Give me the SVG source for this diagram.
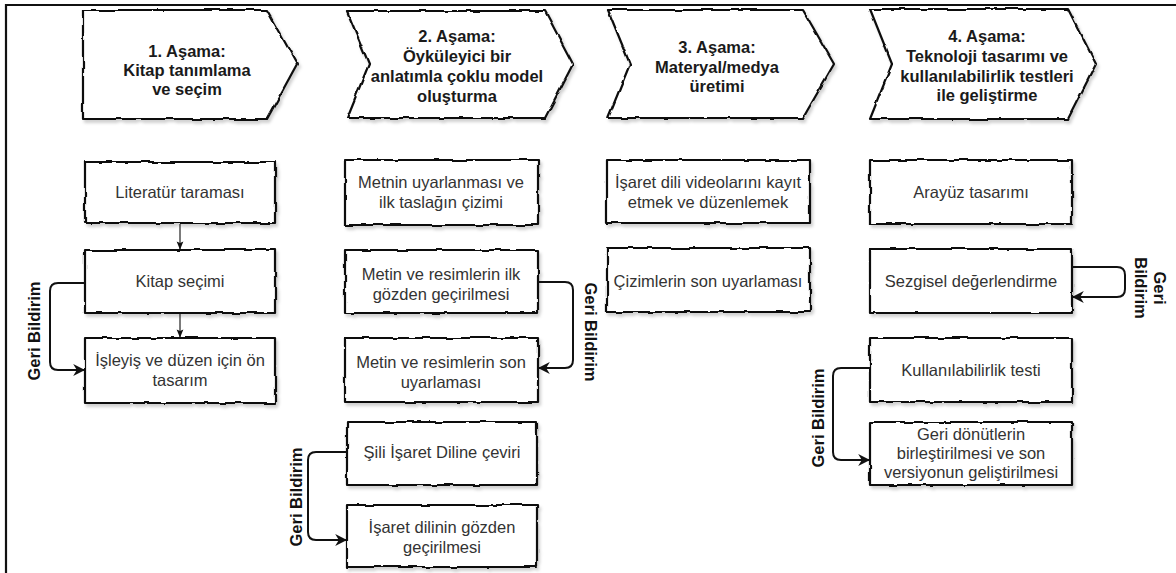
<svg xmlns="http://www.w3.org/2000/svg" width="1176" height="573" viewBox="0 0 1176 573">
  <defs>
    <!-- hand-drawn wobble plus soft shadow for the outlined shapes -->
    <filter id="sketch" x="-10%" y="-10%" width="125%" height="130%">
      <feTurbulence type="fractalNoise" baseFrequency="0.07" numOctaves="2" seed="3" result="noise"/>
      <feDisplacementMap in="SourceGraphic" in2="noise" scale="3.4" xChannelSelector="R" yChannelSelector="G" result="wobbly"/>
      <feDropShadow in="wobbly" dx="2" dy="3" stdDeviation="1.4" flood-color="#000" flood-opacity="0.18"/>
    </filter>
    <marker id="arrow" viewBox="0 0 10 10" refX="9" refY="5" markerWidth="6" markerHeight="6" markerUnits="strokeWidth" orient="auto">
      <path d="M0,0 L10,5 L0,10 L3,5 Z" fill="#111"/>
    </marker>
    <marker id="arrowSmall" viewBox="0 0 10 10" refX="9" refY="5" markerWidth="7" markerHeight="7" markerUnits="strokeWidth" orient="auto">
      <path d="M0,1 L10,5 L0,9 L2,5 Z" fill="#111"/>
    </marker>
    <style>
      .shape { fill: #fff; stroke: #111; stroke-width: 2.2; stroke-linejoin: round; }
      .phase { font-family: "Liberation Sans", Arial, sans-serif; font-size: 16.5px; font-weight: bold; fill: #1a1a1a; text-anchor: middle; }
      .step { font-family: "Liberation Sans", Arial, sans-serif; font-size: 16.5px; fill: #333; text-anchor: middle; }
      .fb { font-family: "Liberation Sans", Arial, sans-serif; font-size: 16.5px; font-weight: bold; fill: #111; text-anchor: middle; dominant-baseline: central; }
      .link { fill: none; stroke: #111; stroke-width: 2; stroke-linejoin: round; }
      .down { fill: none; stroke: #222; stroke-width: 1.2; }
    </style>
  </defs>

  <rect x="0" y="0" width="1176" height="573" fill="#fff"/>

  <!-- outer frame: top and left rules -->
  <g id="frame">
    <line x1="5" y1="5" x2="1176" y2="5" stroke="#111" stroke-width="2.2"/>
    <line x1="6" y1="4" x2="6" y2="573" stroke="#111" stroke-width="2.2"/>
  </g>

  <!-- phase headers -->
  <g id="phase1">
    <path class="shape" filter="url(#sketch)" d="M83,10 L267,10 L297,64 L267,119 L83,119 Z"/>
    <text class="phase" x="187" y="57">1. Aşama:</text>
    <text class="phase" x="187" y="76">Kitap tanımlama</text>
    <text class="phase" x="187" y="95">ve seçim</text>
  </g>
  <g id="phase2">
    <path class="shape" filter="url(#sketch)" d="M347,11 L545,11 L573,64 L545,118 L347,118 L369,64 Z"/>
    <text class="phase" x="457" y="42">2. Aşama:</text>
    <text class="phase" x="457" y="62">Öyküleyici bir</text>
    <text class="phase" x="457" y="82">anlatımla çoklu model</text>
    <text class="phase" x="457" y="102">oluşturma</text>
  </g>
  <g id="phase3">
    <path class="shape" filter="url(#sketch)" d="M608,10 L803,10 L834,64 L803,118 L608,118 L630,64 Z"/>
    <text class="phase" x="717" y="53">3. Aşama:</text>
    <text class="phase" x="717" y="73">Materyal/medya</text>
    <text class="phase" x="717" y="92">üretimi</text>
  </g>
  <g id="phase4">
    <path class="shape" filter="url(#sketch)" d="M870,9 L1068,9 L1096,64 L1068,119 L870,119 L892,64 Z"/>
    <text class="phase" x="987" y="42">4. Aşama:</text>
    <text class="phase" x="987" y="62">Teknoloji tasarımı ve</text>
    <text class="phase" x="987" y="82">kullanılabilirlik testleri</text>
    <text class="phase" x="987" y="101">ile geliştirme</text>
  </g>

  <!-- phase 1 steps -->
  <g id="literatur">
    <rect class="shape" filter="url(#sketch)" x="85" y="162" width="190" height="61"/>
    <text class="step" x="180" y="198">Literatür taraması</text>
  </g>
  <g id="kitap-secimi">
    <rect class="shape" filter="url(#sketch)" x="85" y="250" width="190" height="63"/>
    <text class="step" x="180" y="287">Kitap seçimi</text>
  </g>
  <g id="on-tasarim">
    <rect class="shape" filter="url(#sketch)" x="85" y="338" width="190" height="65"/>
    <text class="step" x="180" y="366">İşleyiş ve düzen için ön</text>
    <text class="step" x="180" y="386">tasarım</text>
  </g>

  <!-- phase 2 steps -->
  <g id="metin-uyarlama">
    <rect class="shape" filter="url(#sketch)" x="345" y="160" width="193" height="65"/>
    <text class="step" x="441" y="188">Metnin uyarlanması ve</text>
    <text class="step" x="441" y="208">ilk taslağın çizimi</text>
  </g>
  <g id="ilk-gozden-gecirme">
    <rect class="shape" filter="url(#sketch)" x="345" y="250" width="193" height="63"/>
    <text class="step" x="441" y="280">Metin ve resimlerin ilk</text>
    <text class="step" x="441" y="300">gözden geçirilmesi</text>
  </g>
  <g id="son-uyarlama">
    <rect class="shape" filter="url(#sketch)" x="345" y="338" width="193" height="64"/>
    <text class="step" x="441" y="368">Metin ve resimlerin son</text>
    <text class="step" x="441" y="388">uyarlaması</text>
  </g>
  <g id="isaret-ceviri">
    <rect class="shape" filter="url(#sketch)" x="347" y="422" width="190" height="63"/>
    <text class="step" x="442" y="458">Şili İşaret Diline çeviri</text>
  </g>
  <g id="isaret-gozden-gecirme">
    <rect class="shape" filter="url(#sketch)" x="347" y="505" width="190" height="62"/>
    <text class="step" x="442" y="533">İşaret dilinin gözden</text>
    <text class="step" x="442" y="553">geçirilmesi</text>
  </g>

  <!-- phase 3 steps -->
  <g id="video-kayit">
    <rect class="shape" filter="url(#sketch)" x="607" y="160" width="203" height="63"/>
    <text class="step" x="708" y="188">İşaret dili videolarını kayıt</text>
    <text class="step" x="708" y="208">etmek ve düzenlemek</text>
  </g>
  <g id="cizim-uyarlama">
    <rect class="shape" filter="url(#sketch)" x="607" y="248" width="203" height="64"/>
    <text class="step" x="708" y="287">Çizimlerin son uyarlaması</text>
  </g>

  <!-- phase 4 steps -->
  <g id="arayuz">
    <rect class="shape" filter="url(#sketch)" x="870" y="160" width="202" height="64"/>
    <text class="step" x="971" y="198">Arayüz tasarımı</text>
  </g>
  <g id="sezgisel">
    <rect class="shape" filter="url(#sketch)" x="870" y="249" width="202" height="64"/>
    <text class="step" x="971" y="287">Sezgisel değerlendirme</text>
  </g>
  <g id="kullanilabilirlik">
    <rect class="shape" filter="url(#sketch)" x="870" y="338" width="202" height="64"/>
    <text class="step" x="971" y="376">Kullanılabilirlik testi</text>
  </g>
  <g id="son-versiyon">
    <rect class="shape" filter="url(#sketch)" x="870" y="422" width="202" height="63"/>
    <text class="step" x="971" y="440">Geri dönütlerin</text>
    <text class="step" x="971" y="459">birleştirilmesi ve son</text>
    <text class="step" x="971" y="478">versiyonun geliştirilmesi</text>
  </g>

  <!-- connectors -->
  <g id="connectors">
    <path class="down" d="M180,224 V249" marker-end="url(#arrowSmall)"/>
    <path class="down" d="M180,314 V337" marker-end="url(#arrowSmall)"/>

    <path class="link" d="M85,283 H58 Q50,283 50,291 V362 Q50,370 58,370 H84" marker-end="url(#arrow)"/>
    <path class="link" d="M538,282 H565 Q573,282 573,290 V360 Q573,368 565,368 H539" marker-end="url(#arrow)"/>
    <path class="link" d="M347,452 H316 Q308,452 308,460 V532 Q308,540 316,540 H346" marker-end="url(#arrow)"/>
    <path class="link" d="M1072,267 H1117 Q1125,267 1125,275 V289 Q1125,297 1117,297 H1073" marker-end="url(#arrow)"/>
    <path class="link" d="M870,368 H841 Q833,368 833,376 V452 Q833,460 841,460 H869" marker-end="url(#arrow)"/>

    <text class="fb" transform="translate(34,331) rotate(-90)">Geri Bildirim</text>
    <text class="fb" transform="translate(591,332) rotate(90)">Geri Bildirim</text>
    <text class="fb" transform="translate(296,497) rotate(-90)">Geri Bildirim</text>
    <text class="fb" transform="translate(1160,288) rotate(90)">Geri</text>
    <text class="fb" transform="translate(1141,288) rotate(90)">Bildirim</text>
    <text class="fb" transform="translate(818,418) rotate(-90)">Geri Bildirim</text>
  </g>
</svg>
